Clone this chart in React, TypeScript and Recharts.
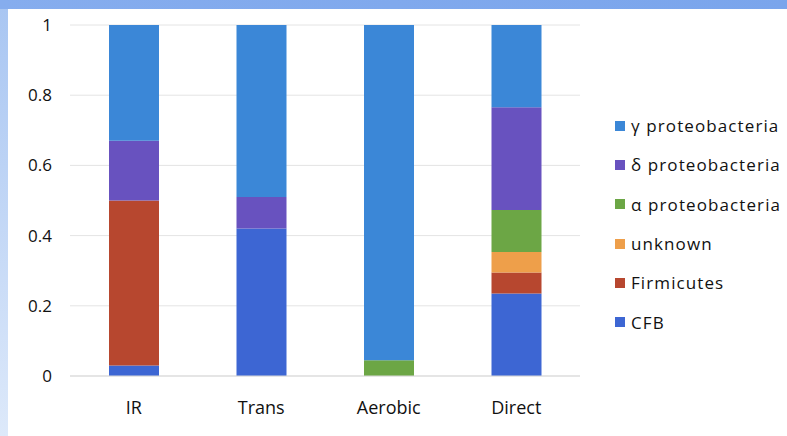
import { Bar, BarChart, CartesianGrid, XAxis, YAxis } from "recharts"

const categories = ["IR", "Trans", "Aerobic", "Direct"]

// share of clones per group, bottom of the stack first
const cfb = [0.03, 0.42, 0, 0.235]
const firmicutes = [0.47, 0, 0, 0.06]
const unknown = [0, 0, 0, 0.058]
const alpha = [0, 0, 0.045, 0.12]
const delta = [0.17, 0.09, 0, 0.293]
const gamma = [0.33, 0.49, 0.955, 0.234]

const yTicks = [0, 0.2, 0.4, 0.6, 0.8, 1]

const series = [
	{ key: "cfb", name: "CFB", values: cfb, color: "#3d66d3" },
	{ key: "firmicutes", name: "Firmicutes", values: firmicutes, color: "#b7472f" },
	{ key: "unknown", name: "unknown", values: unknown, color: "#ee9f4a" },
	{ key: "alpha", name: "α proteobacteria", values: alpha, color: "#6ca645" },
	{ key: "delta", name: "δ proteobacteria", values: delta, color: "#6852bf" },
	{ key: "gamma", name: "γ proteobacteria", values: gamma, color: "#3b87d7" },
]

const data = categories.map((name, i) => {
	const row: Record<string, string | number> = { name }
	series.forEach((s) => {
		row[s.key] = s.values[i]
	})
	return row
})

const font = "'Open Sans', sans-serif"

// legend lists the top of the stack first
function LegendList() {
	const items = [...series].reverse()
	return (
		<div
			style={{
				position: "absolute",
				left: 615,
				top: 106,
				fontFamily: font,
				fontSize: 17,
				color: "#111",
			}}
		>
			{items.map((s) => (
				<div
					key={s.key}
					style={{ display: "flex", alignItems: "center", height: 39.3 }}
				>
					<span
						style={{
							display: "inline-block",
							width: 10,
							height: 10,
							background: s.color,
							marginRight: 6,
						}}
					/>
					<span style={{ letterSpacing: 1.1 }}>{s.name}</span>
				</div>
			))}
		</div>
	)
}

export default function App() {
	return (
		<div
			style={{
				position: "fixed",
				left: 0,
				top: 0,
				width: 787,
				height: 436,
				background: "#fff",
				overflow: "hidden",
			}}
		>
			{/* blue frame along the top and left edges */}
			<div
				style={{
					position: "absolute",
					left: 0,
					top: 0,
					width: 787,
					height: 9,
					background: "linear-gradient(90deg, #86adee, #7aa5ec)",
				}}
			/>
			<div
				style={{
					position: "absolute",
					left: 0,
					top: 9,
					width: 8,
					height: 427,
					background: "linear-gradient(180deg, #a9c6f2, #dde9fa)",
				}}
			/>
			<div style={{ position: "absolute", left: 0, top: 0 }}>
				<BarChart
					width={787}
					height={436}
					data={data}
					margin={{ top: 25, right: 207, bottom: 20, left: 0 }}
				>
					<CartesianGrid vertical={false} stroke="#e4e4e4" />
					<XAxis
						dataKey="name"
						axisLine={{ stroke: "#d9d9d9" }}
						tickLine={false}
						tickSize={0}
						tickMargin={25}
						height={40}
						tick={{ fill: "#111", fontSize: 18, fontFamily: font }}
					/>
					<YAxis
						domain={[0, 1]}
						ticks={yTicks}
						axisLine={false}
						tickLine={false}
						tickSize={0}
						tickMargin={18}
						width={70}
						tick={{ fill: "#111", fontSize: 17, fontFamily: font }}
					/>
					{series.map((s) => (
						<Bar
							key={s.key}
							dataKey={s.key}
							name={s.name}
							stackId="a"
							fill={s.color}
							barSize={50}
							isAnimationActive={false}
						/>
					))}
				</BarChart>
			</div>
			<LegendList />
		</div>
	)
}
